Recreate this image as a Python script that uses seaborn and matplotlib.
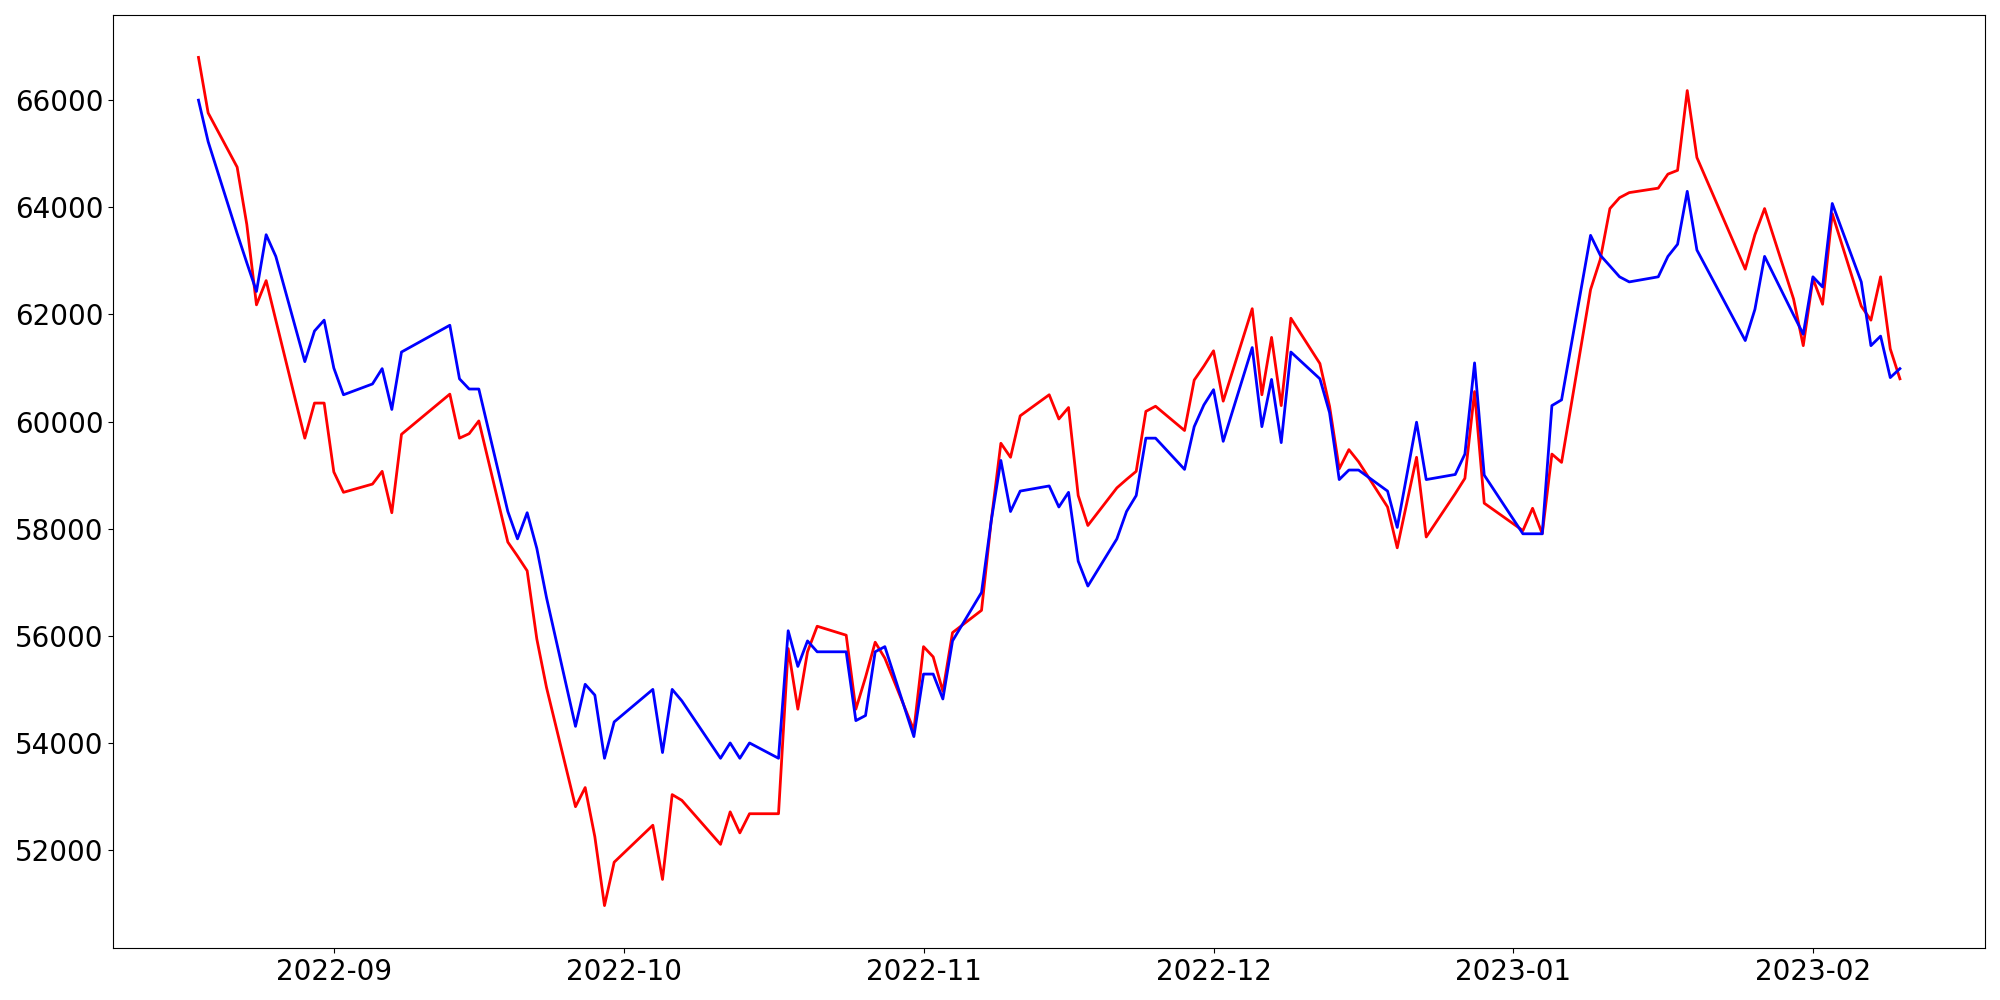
import pandas as pd
import matplotlib
matplotlib.use('Agg')
import matplotlib.pyplot as plt
import seaborn as sns

# Values
dates = ['2022-08-18', '2022-08-19', '2022-08-22', '2022-08-23', '2022-08-24', '2022-08-25',
         '2022-08-26', '2022-08-29', '2022-08-30', '2022-08-31', '2022-09-01', '2022-09-02',
         '2022-09-05', '2022-09-06', '2022-09-07', '2022-09-08', '2022-09-13', '2022-09-14',
         '2022-09-15', '2022-09-16', '2022-09-19', '2022-09-20', '2022-09-21', '2022-09-22',
         '2022-09-23', '2022-09-26', '2022-09-27', '2022-09-28', '2022-09-29', '2022-09-30',
         '2022-10-04', '2022-10-05', '2022-10-06', '2022-10-07', '2022-10-11', '2022-10-12',
         '2022-10-13', '2022-10-14', '2022-10-17', '2022-10-18', '2022-10-19', '2022-10-20',
         '2022-10-21', '2022-10-24', '2022-10-25', '2022-10-26', '2022-10-27', '2022-10-28',
         '2022-10-31', '2022-11-01', '2022-11-02', '2022-11-03', '2022-11-04', '2022-11-07',
         '2022-11-08', '2022-11-09', '2022-11-10', '2022-11-11', '2022-11-14', '2022-11-15',
         '2022-11-16', '2022-11-17', '2022-11-18', '2022-11-21', '2022-11-22', '2022-11-23',
         '2022-11-24', '2022-11-25', '2022-11-28', '2022-11-29', '2022-11-30', '2022-12-01',
         '2022-12-02', '2022-12-05', '2022-12-06', '2022-12-07', '2022-12-08', '2022-12-09',
         '2022-12-12', '2022-12-13', '2022-12-14', '2022-12-15', '2022-12-16', '2022-12-19',
         '2022-12-20', '2022-12-22', '2022-12-23', '2022-12-26', '2022-12-27', '2022-12-28',
         '2022-12-29', '2023-01-02', '2023-01-03', '2023-01-04', '2023-01-05', '2023-01-06',
         '2023-01-09', '2023-01-10', '2023-01-11', '2023-01-12', '2023-01-13', '2023-01-16',
         '2023-01-17', '2023-01-18', '2023-01-19', '2023-01-20', '2023-01-25', '2023-01-26',
         '2023-01-27', '2023-01-30', '2023-01-31', '2023-02-01', '2023-02-02', '2023-02-03',
         '2023-02-06', '2023-02-07', '2023-02-08', '2023-02-09', '2023-02-10']

red_values = [66798, 65762, 64750, 63679, 62179, 62631,
              61893, 59690, 60345, 60345, 59060, 58679,
              58833, 59071, 58298, 59762, 60512, 59690,
              59774, 60012, 57750, 57488, 57214, 55940,
              55036, 52810, 53167, 52250, 50964, 51774,
              52464, 51452, 53036, 52929, 52107, 52714,
              52321, 52679, 52679, 55762, 54631, 55702,
              56179, 56012, 54631, 55226, 55881, 55583,
              54238, 55798, 55607, 54964, 56060, 56476,
              58143, 59595, 59333, 60107, 60500, 60048,
              60262, 58619, 58060, 58762, 58920, 59071,
              60190, 60286, 59833, 60774, 61036, 61321,
              60381, 62107, 60500, 61571, 60298, 61929,
              61083, 60286, 59119, 59476, 59250, 58405,
              57643, 59333, 57845, 58655, 58940, 60560,
              58476, 57964, 58381, 57905, 59393, 59238,
              62464, 63024, 63976, 64179, 64274, 64357,
              64619, 64690, 66179, 64929, 62845, 63488,
              63976, 62286, 61417, 62667, 62190, 63881,
              62155, 61893, 62702, 61357, 60798]

blue_values = [66000, 65226, 63512, 62964, 62429, 63488,
               63083, 61119, 61690, 61893, 61000, 60500,
               60702, 60988, 60226, 61298, 61798, 60798,
               60607, 60607, 58321, 57810, 58298, 57631,
               56714, 54310, 55095, 54893, 53714, 54393,
               55000, 53821, 55000, 54786, 53714, 54000,
               53714, 54000, 53714, 56095, 55429, 55905,
               55702, 55702, 54417, 54512, 55702, 55798,
               54119, 55286, 55286, 54821, 55905, 56810,
               58143, 59274, 58321, 58702, 58798, 58405,
               58679, 57393, 56929, 57810, 58321, 58619,
               59690, 59690, 59107, 59905, 60310, 60595,
               59631, 61381, 59905, 60786, 59607, 61298,
               60798, 60167, 58917, 59095, 59095, 58702,
               58024, 59988, 58917, 59012, 59393, 61095,
               59000, 57905, 57905, 57905, 60298, 60405,
               63476, 63107, 62905, 62702, 62607, 62702,
               63083, 63310, 64298, 63202, 61512, 62095,
               63083, 61988, 61631, 62702, 62512, 64071,
               62607, 61417, 61595, 60821, 60988]

data = pd.DataFrame({'Date': pd.to_datetime(dates), 'Red': red_values, 'Blue': blue_values})

fig, ax = plt.subplots(figsize=(20, 10), dpi=100)
sns.lineplot(data=data, x='Date', y='Red', color='red', linewidth=2, ax=ax)
sns.lineplot(data=data, x='Date', y='Blue', color='blue', linewidth=2, ax=ax)

ax.set_xlabel('')
ax.set_ylabel('')
ax.tick_params(labelsize=20)
plt.subplots_adjust(left=0.0567, right=0.9925, bottom=0.052, top=0.985)
plt.savefig('out.png')
